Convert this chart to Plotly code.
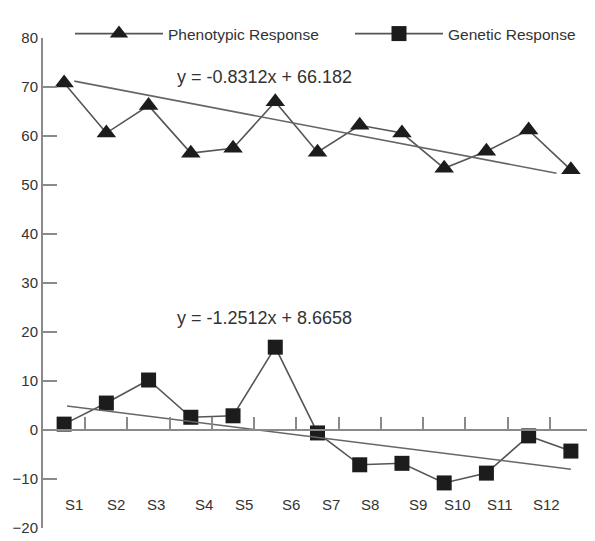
import numpy as np
import plotly.graph_objects as go

# ---------------- data ----------------
tick_labels = ["S1", "S2", "S3", "S4", "S5", "S6", "S7", "S8", "S9", "S10", "S11", "S12"]
phenotypic = [70.8, 60.6, 66.2, 56.5, 57.5, 67.0, 56.7, 62.2, 60.6, 53.4, 56.9, 61.2, 53.1]
genetic = [1.2, 5.5, 10.2, 2.6, 2.9, 16.9, -0.6, -7.1, -6.8, -10.8, -8.8, -1.2, -4.3]
pheno_trend_x = [1.24, 12.66]
pheno_trend_y = [71.2, 52.4]
gen_trend_x = [1.07, 13.0]
gen_trend_y = [4.9, -8.0]
pheno_eq = "y = -0.8312x + 66.182"
gen_eq = "y = -1.2512x + 8.6658"

# ---------------- layout constants ----------------
FONT = "Liberation Sans, Arial, sans-serif"
AXIS_COL = "#8a8a8a"
LINE_COL = "#555555"
MARK_COL = "#1c1c1c"
TXT_COL = "#333333"
label_x = [1.24, 2.23, 3.18, 4.32, 5.27, 6.38, 7.33, 8.25, 9.39, 10.31, 11.33, 12.42]
label_y = -15.3
Y_MIN, Y_MAX = -20, 80

# the page body adds an 8px offset, so the figure is 8px smaller
W, H = 587, 533
M_L, M_R, M_T, M_B = 35, 3, 0, 13
LEGEND_PUSH = 9  # top margin growth caused by the legends
plot_w = W - M_L - M_R
plot_h = H - M_T - M_B - LEGEND_PUSH
dom_top = 1 - (30 - LEGEND_PUSH) / plot_h
x_axis_pos = dom_top * (0 - Y_MIN) / (Y_MAX - Y_MIN)

n = len(phenotypic)
xs = np.arange(1, n + 1)

fig = go.Figure()
fig.add_trace(go.Scatter(
    x=xs, y=phenotypic, mode="lines+markers", name="Phenotypic Response",
    line=dict(color=LINE_COL, width=1.6),
    marker=dict(symbol="triangle-up", size=17, color=MARK_COL),
    legend="legend",
))
fig.add_trace(go.Scatter(
    x=xs, y=genetic, mode="lines+markers", name="Genetic Response",
    line=dict(color=LINE_COL, width=1.6),
    marker=dict(symbol="square", size=15, color=MARK_COL),
    legend="legend2",
))
fig.add_trace(go.Scatter(
    x=pheno_trend_x, y=pheno_trend_y, mode="lines", showlegend=False,
    line=dict(color="#666666", width=1.6), hoverinfo="skip",
))
fig.add_trace(go.Scatter(
    x=gen_trend_x, y=gen_trend_y, mode="lines", showlegend=False,
    line=dict(color="#666666", width=1.6), hoverinfo="skip",
))

annotations = []
for lx, t in zip(label_x, tick_labels):
    annotations.append(dict(x=lx, y=label_y, xref="x", yref="y", text=t,
                            showarrow=False, font=dict(size=15, color=TXT_COL, family=FONT)))
annotations.append(dict(x=5.74, y=72.0, xref="x", yref="y", text=pheno_eq, showarrow=False,
                        font=dict(size=18, color=TXT_COL, family=FONT)))
annotations.append(dict(x=5.74, y=22.9, xref="x", yref="y", text=gen_eq, showarrow=False,
                        font=dict(size=18, color=TXT_COL, family=FONT)))

legend_common = dict(orientation="h", xref="paper", yref="paper", y=1.0,
                     xanchor="left", yanchor="top",
                     font=dict(size=15.5, color=TXT_COL, family=FONT),
                     itemwidth=88, bgcolor="rgba(0,0,0,0)", borderwidth=0)

fig.update_layout(
    width=W, height=H,
    margin=dict(l=M_L, r=M_R, t=M_T, b=M_B),
    paper_bgcolor="white", plot_bgcolor="white",
    font=dict(family=FONT, size=15, color=TXT_COL),
    showlegend=True,
    legend=dict(x=(62 - M_L) / plot_w, **legend_common),
    legend2=dict(x=(342 - M_L) / plot_w, **legend_common),
    annotations=annotations,
    xaxis=dict(range=[0.5, n + 0.5], anchor="free", position=x_axis_pos,
               tickmode="array", tickvals=list(np.arange(1.5, n + 1, 1.0)),
               ticks="inside", ticklen=12, tickwidth=1.5, tickcolor=AXIS_COL,
               showticklabels=False, showline=True, linecolor=AXIS_COL, linewidth=2,
               showgrid=False, zeroline=False),
    yaxis=dict(domain=[0, dom_top], range=[Y_MIN, Y_MAX], dtick=10, tick0=0,
               ticks="inside", ticklen=14,
               tickwidth=2, tickcolor=AXIS_COL, showline=True, linecolor=AXIS_COL,
               linewidth=2, showgrid=False, zeroline=False,
               tickfont=dict(size=15, color=TXT_COL, family=FONT)),
)

fig.write_html("out.html")
